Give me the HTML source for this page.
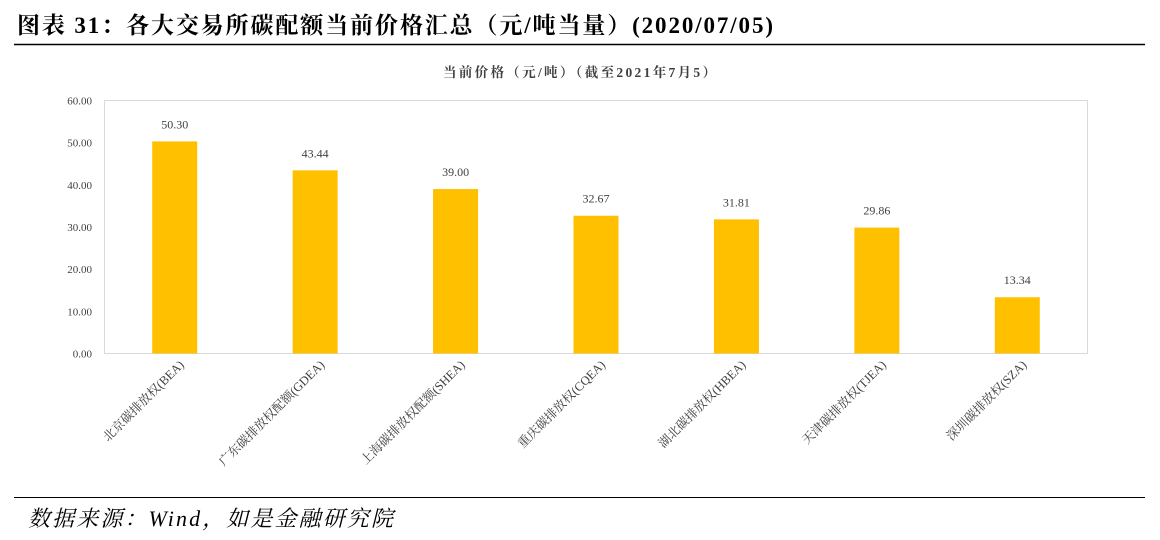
<!DOCTYPE html>
<html><head><meta charset="utf-8">
<style>
body{margin:0;background:#fff;}
svg{display:block;}
</style></head>
<body>
<svg width="1160" height="540" viewBox="0 0 1160 540" xmlns="http://www.w3.org/2000/svg">
<text x="17" y="33" textLength="756" lengthAdjust="spacing" font-family="'Liberation Serif','Noto Serif CJK SC',serif" font-size="23" font-weight="bold" fill="#000">图表 31：各大交易所碳配额当前价格汇总（元/吨当量）(2020/07/05)</text>
<line x1="14" y1="44.5" x2="1145" y2="44.5" stroke="#000" stroke-width="1.5"/>
<text x="443" y="77" textLength="273" lengthAdjust="spacing" font-family="'Liberation Serif','Noto Serif CJK SC',serif" font-size="13.5" font-weight="bold" fill="#404040">当前价格（元/吨）（截至2021年7月5）</text>
<rect x="104.5" y="100.5" width="983" height="253" fill="#fff" stroke="#d9d9d9"/>
<g id="yaxis"></g>
<g id="bars"></g>
<g id="xaxis"></g>
<line x1="14" y1="497.5" x2="1145" y2="497.5" stroke="#000" stroke-width="1"/>
<text x="28" y="526" textLength="365" lengthAdjust="spacing" font-family="'Liberation Serif','Noto Serif CJK SC',serif" font-size="22" font-style="italic" fill="#000">数据来源：Wind，如是金融研究院</text>
</svg>
<script>
const categories = ["北京碳排放权(BEA)","广东碳排放权配额(GDEA)","上海碳排放权配额(SHEA)","重庆碳排放权(CQEA)","湖北碳排放权(HBEA)","天津碳排放权(TJEA)","深圳碳排放权(SZA)"];
const values = [50.30, 43.44, 39.00, 32.67, 31.81, 29.86, 13.34];
const yTicks = [0, 10, 20, 30, 40, 50, 60];
const NS = "http://www.w3.org/2000/svg";
const x0 = 104.5, x1 = 1087.5, yTop = 100.5, yBot = 353.5, yMax = 60;
const band = (x1 - x0) / categories.length;
const yScale = v => yBot - (v / yMax) * (yBot - yTop);
const xCenter = i => x0 + band * (i + 0.5);
function mk(tag, attrs, parent){const e=document.createElementNS(NS,tag);for(const k in attrs)e.setAttribute(k,attrs[k]);parent.appendChild(e);return e;}
const ya = document.getElementById('yaxis');
yTicks.forEach(t=>{
  const tx = mk('text',{x:92,y:yScale(t)+4,'text-anchor':'end','font-family':"'Liberation Serif',serif",'font-size':11,fill:'#404040'},ya);
  tx.textContent = t.toFixed(2);
  
  
});
const bg = document.getElementById('bars');
const xa = document.getElementById('xaxis');
values.forEach((v,i)=>{
  const cx = xCenter(i), w = 45;
  const r = mk('rect',{x:cx-w/2,y:yScale(v),width:w,height:yBot-yScale(v),fill:'#ffc000'},bg);
  
  
  const l = mk('text',{x:cx,y:yScale(v)-13,'text-anchor':'middle','font-family':"'Liberation Serif',serif",'font-size':12,fill:'#404040'},bg);
  l.textContent = v.toFixed(2);
  
  
  const c = mk('text',{transform:`translate(${cx+10},${yBot+12}) rotate(-45)`,'text-anchor':'end','font-family':"'Liberation Serif','Noto Serif CJK SC',serif",'font-size':12.5,fill:'#404040'},xa);
  c.textContent = categories[i];
  
  
});
</script>
</body></html>
